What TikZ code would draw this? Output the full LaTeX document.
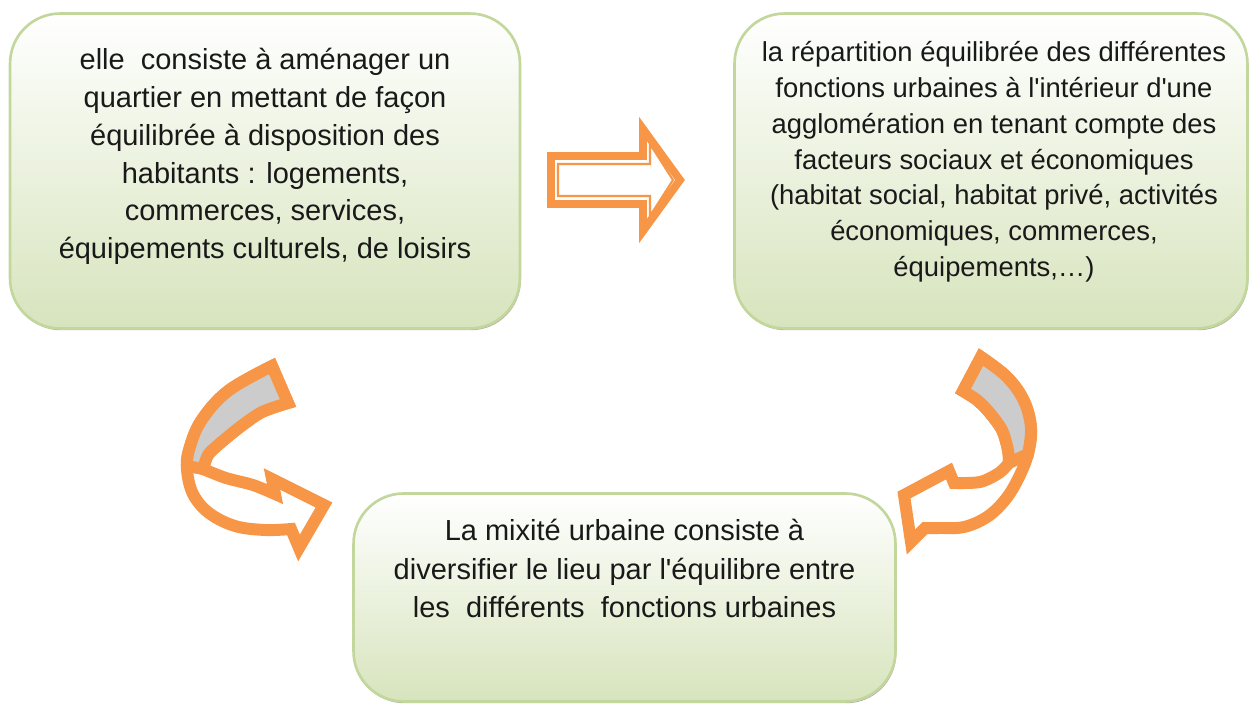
\documentclass[tikz,border=0pt]{standalone}
\usepackage{fontspec}
\newfontfamily\policecadre{Liberation Sans}
\usetikzlibrary{shadows}

\definecolor{vertclair}{RGB}{215,228,189}
\definecolor{vertbord}{RGB}{195,214,155}
\definecolor{orangefl}{RGB}{247,150,70}
\definecolor{grisfl}{RGB}{204,204,204}
\definecolor{encre}{RGB}{25,25,25}

\tikzset{
  cadre/.style={draw=vertbord, line width=1.5pt, rounded corners=1cm,
    top color=white, bottom color=vertclair,
    drop shadow={shadow xshift=0.5pt, shadow yshift=-1pt, opacity=0.6, fill=black!55}},
  mixtexte/.style={align=center, inner sep=0pt, text=encre, anchor=north},
  fleche/.style={draw=orangefl, line width=6.8pt, line join=miter, miter limit=10},
}

\begin{document}
\begin{tikzpicture}[x=0.02cm, y=-0.02cm]
  \useasboundingbox (0,0) rectangle (1249,707);

  % Cadres
  \node[cadre, minimum width=10.2cm, minimum height=6.3cm] (cadreA) at (265,171) {};
  \node[cadre, minimum width=10.26cm, minimum height=6.3cm] (cadreB) at (991,171) {};
  \node[cadre, minimum width=10.84cm, minimum height=4.16cm] (cadreC) at (624.5,597.5) {};

  % Textes
  \node[mixtexte, font=\policecadre\fontsize{16.5}{21.5}\selectfont] (texteA) at (265,48)
    {elle\ \ consiste à aménager un\\ quartier en mettant de façon\\ équilibrée à disposition des\\
     habitants : logements,\\ commerces, services,\\ équipements culturels, de loisirs};
  \node[mixtexte, font=\policecadre\fontsize{15.6}{20.4}\selectfont] (texteB) at (994,41)
    {la répartition équilibrée des différentes\\ fonctions urbaines à l'intérieur d'une\\
     agglomération en tenant compte des\\ facteurs sociaux et économiques\\
     (habitat social, habitat privé, activités\\ économiques, commerces,\\ équipements,…)};
  \node[mixtexte, font=\policecadre\fontsize{16.5}{21.8}\selectfont] (texteC) at (624.5,519)
    {La mixité urbaine consiste à\\ diversifier le lieu par l'équilibre entre\\
     les\ \ différents\ \ fonctions urbaines};

  % Flèche droite
  \draw[fill=white, draw=orangefl, line width=4.5pt, line join=miter]
    (551,156) -- (643,156) -- (643,129) -- (680,180) -- (643,231) -- (643,204) -- (551,204) -- cycle;
  \draw[draw=orangefl, line width=1.2pt, line join=miter]
    (558,164) -- (650,164) -- (650,144) -- (673,180) -- (650,216) -- (650,196) -- (558,196) -- cycle;

  % Flèche courbe gauche
  \draw[fleche, fill=white]
    plot[smooth, tension=0.6] coordinates {(272,366) (228,391) (201,421) (189,450) (187,470)
      (193,494) (209,513) (235,526) (265,530) (291,529)}
    -- (299,548) -- (324,505) -- (272,479) -- (275,494)
    -- plot[smooth] coordinates {(275,494) (253,485) (226,478) (203,469)}
    -- plot[smooth] coordinates {(203,469) (208,455) (218,445) (240,427) (262,412) (288,403)} -- cycle;
  \draw[fleche, fill=grisfl]
    plot[smooth, tension=0.6] coordinates {(272,366) (228,391) (201,421) (189,450) (187,466)}
    -- (203,469)
    -- plot[smooth] coordinates {(203,469) (208,455) (218,445) (240,427) (262,412) (288,403)} -- cycle;

  % Flèche courbe droite
  \draw[fleche, fill=white]
    plot[smooth, tension=0.6] coordinates {(981,357) (1007,377) (1024,401) (1031,428) (1028,454)
      (1018,479) (1005,500) (987,517) (964,527) (940,528) (925,528)}
    -- (911,542) -- (904,495) -- (949,471) -- (954,483)
    -- plot[smooth] coordinates {(954,483) (980,482) (999,473) (1009,463)}
    -- plot[smooth] coordinates {(1009,463) (1008,450) (1002,430) (989,412) (977,400) (963,391)} -- cycle;
  \draw[fleche, fill=grisfl]
    plot[smooth, tension=0.6] coordinates {(981,357) (1007,377) (1024,401) (1031,428) (1028,454)}
    -- (1009,463)
    -- plot[smooth] coordinates {(1009,463) (1008,450) (1002,430) (989,412) (977,400) (963,391)} -- cycle;
\end{tikzpicture}
\end{document}
